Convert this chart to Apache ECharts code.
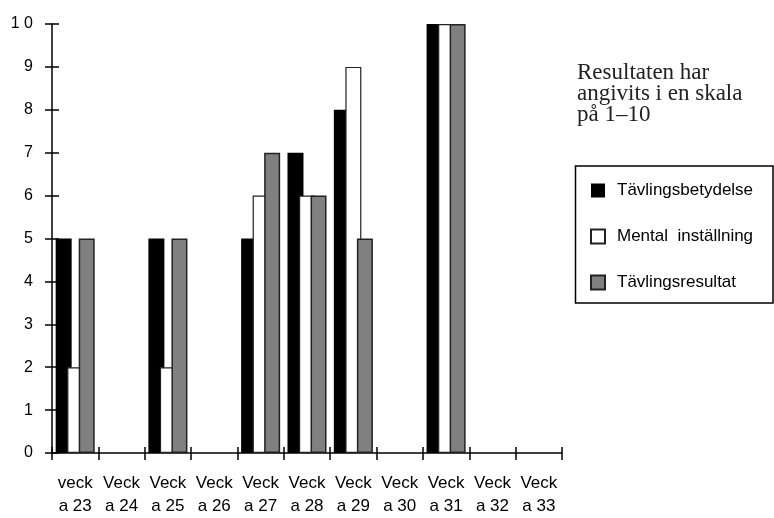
<!DOCTYPE html>
<html>
<head>
<meta charset="utf-8">
<script src="https://cdn.jsdelivr.net/npm/echarts@6/dist/echarts.min.js"></script>
<style>
  html, body { margin: 0; padding: 0; background: #fff; }
  #chart { width: 774px; height: 518px; }
</style>
</head>
<body>
<div id="chart"></div>
<script>
// Week categories (labels wrap as in the printed table: "Veck" / "a NN")
const weeks = ['veck\na 23', 'Veck\na 24', 'Veck\na 25', 'Veck\na 26', 'Veck\na 27',
               'Veck\na 28', 'Veck\na 29', 'Veck\na 30', 'Veck\na 31', 'Veck\na 32', 'Veck\na 33'];

// Scores on a 1–10 scale; null = no entry that week
const tavlingsbetydelse = [5, null, 5, null, 5, 7, 8, null, 10, null, null];
const mentalInstallning = [2, null, 2, null, 6, 6, 9, null, 10, null, null];
const tavlingsresultat  = [5, null, 5, null, 7, 6, 5, null, 10, null, null];

const seriesNames = ['Tävlingsbetydelse', 'Mental  inställning', 'Tävlingsresultat'];

// Value-axis tick labels 0..10
const yTickLabels = ['0', '1', '2', '3', '4', '5', '6', '7', '8', '9', '1 0'];

const sans = '"Liberation Sans", Arial, sans-serif';
const serif = '"Liberation Serif", "Times New Roman", serif';

const chart = echarts.init(document.getElementById('chart'), null, { renderer: 'canvas' });

const grid = { left: 52, right: 212, top: 24, bottom: 65 };

const barCommon = {
  type: 'bar',
  barWidth: 16,
  barGap: '-28%',
  xAxisIndex: 0,
  yAxisIndex: 0
};

chart.setOption({
  animation: false,
  backgroundColor: '#fff',
  grid: grid,
  xAxis: [
    {
      type: 'category',
      data: weeks,
      position: 'bottom',
      axisLine: { lineStyle: { color: '#000', width: 1.5 } },
      axisTick: { show: true, length: 7, lineStyle: { color: '#000', width: 1.5 } },
      axisLabel: {
        color: '#000',
        fontFamily: sans,
        fontSize: 17,
        lineHeight: 23,
        margin: 19,
        interval: 0
      },
      splitLine: { show: false }
    },
    {
      // inner half of the crossing ticks
      type: 'category',
      data: weeks,
      position: 'bottom',
      axisLine: { show: false },
      axisTick: { show: true, inside: true, length: 6, lineStyle: { color: '#000', width: 1.5 } },
      axisLabel: { show: false },
      splitLine: { show: false }
    }
  ],
  yAxis: [
    {
      type: 'value',
      min: 0,
      max: 10,
      interval: 1,
      position: 'left',
      axisLine: { show: true, lineStyle: { color: '#000', width: 1.5 } },
      axisTick: { show: true, length: 7, lineStyle: { color: '#000', width: 1.5 } },
      axisLabel: {
        color: '#000',
        fontFamily: sans,
        fontSize: 16,
        margin: 19,
        formatter: function (v) { return yTickLabels[Math.round(v)]; }
      },
      splitLine: { show: false }
    },
    {
      type: 'value',
      min: 0,
      max: 10,
      interval: 1,
      position: 'left',
      axisLine: { show: false },
      axisTick: { show: true, inside: true, length: 7, lineStyle: { color: '#000', width: 1.5 } },
      axisLabel: { show: false },
      splitLine: { show: false }
    }
  ],
  legend: {
    orient: 'vertical',
    left: 590,
    top: 182,
    icon: 'rect',
    itemWidth: 14,
    itemHeight: 14,
    itemGap: 29,
    padding: 0,
    data: seriesNames,
    textStyle: {
      color: '#000',
      fontFamily: sans,
      fontSize: 17,
      padding: [0, 0, 0, 7]
    }
  },
  graphic: [
    {
      type: 'rect',
      shape: { x: 575.5, y: 166, width: 197.5, height: 137 },
      style: { fill: 'none', stroke: '#000', lineWidth: 1.5 },
      silent: true
    },
    {
      type: 'text',
      left: 577,
      top: 61,
      style: {
        text: 'Resultaten har\nangivits i en skala\npå 1–10',
        font: '23px ' + serif,
        lineHeight: 21,
        fill: '#222'
      },
      silent: true
    }
  ],
  series: [
    Object.assign({}, barCommon, {
      name: seriesNames[0],
      data: tavlingsbetydelse,
      itemStyle: { color: '#000', borderColor: '#000', borderWidth: 0 }
    }),
    Object.assign({}, barCommon, {
      name: seriesNames[1],
      data: mentalInstallning,
      itemStyle: { color: '#fff', borderColor: '#222', borderWidth: 1.2 }
    }),
    Object.assign({}, barCommon, {
      name: seriesNames[2],
      data: tavlingsresultat,
      itemStyle: { color: '#808080', borderColor: '#222', borderWidth: 1.5 }
    })
  ]
});
</script>
</body>
</html>
